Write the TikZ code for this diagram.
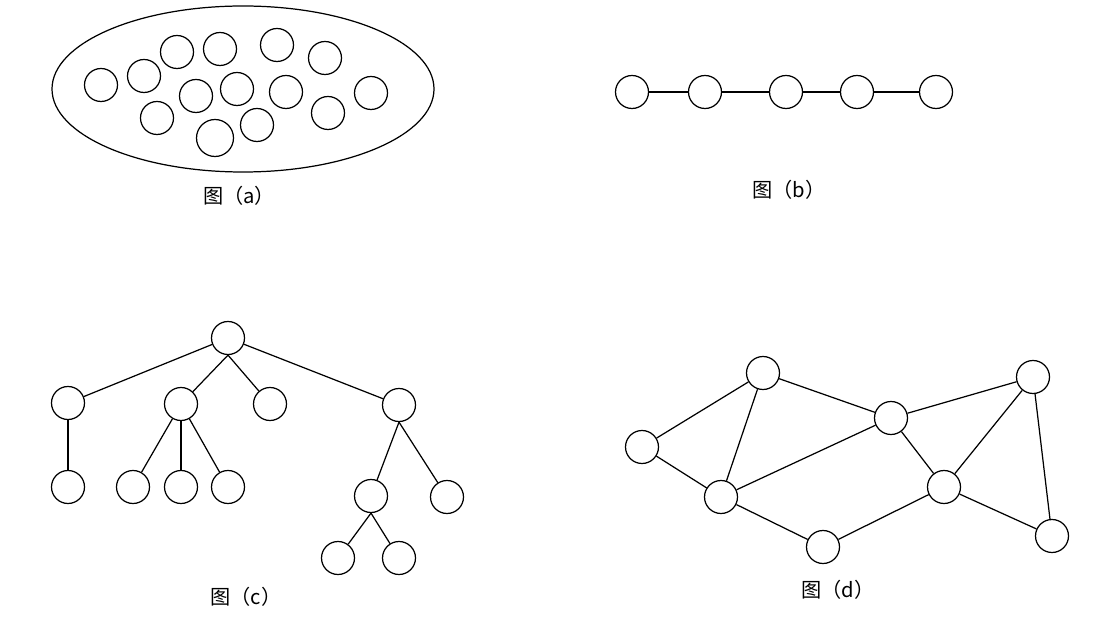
\documentclass[tikz,border=0pt]{standalone}
\usepackage{fontspec}
\newfontfamily\cjk{Noto Sans CJK SC}
\tikzset{
    ball/.style={draw, circle, minimum size=0.66cm, inner sep=0pt},
    bigball/.style={ball, minimum size=0.74cm},
    caption/.style={font=\cjk\fontsize{11.5}{13}\selectfont}
}
\begin{document}
\begin{tikzpicture}[x=0.02cm, y=-0.02cm, line width=0.7pt]
    \useasboundingbox (0,0) rectangle (1105,631);

    % (a) set
    \draw (243,89) ellipse (191 and 83);
    \foreach \n/\x/\y in {1/101/85, 2/144/76, 3/177/52, 4/220/49, 5/277/45, 6/325/58, 7/371/93,
        8/196/96, 9/237/89, 10/286/92, 11/157/118, 13/257/125, 14/328/113}
        \node[ball] (a\n) at (\x,\y) {};
    \node[bigball] (a12) at (215,138) {};
    \node[caption] (capa) at (239,196) {图（a）};

    % (b) chain
    \foreach \n/\x in {1/632, 2/705, 3/786, 4/857, 5/936}
        \node[ball] (b\n) at (\x,92) {};
    \foreach \i/\j in {1/2, 2/3, 3/4, 4/5}
        \draw (b\i) -- (b\j);
    \node[caption] (capb) at (789,190) {图（b）};

    % (c) tree
    \node[ball] (c0) at (228,338) {};
    \node[ball] (c1) at (68,403) {};
    \node[ball] (c2) at (181,404) {};
    \node[ball] (c3) at (270,404) {};
    \node[ball] (c4) at (399,405) {};
    \node[ball] (c11) at (68,487) {};
    \node[ball] (c21) at (133,487) {};
    \node[ball] (c22) at (181,487) {};
    \node[ball] (c23) at (228,487) {};
    \node[ball] (c41) at (371,496) {};
    \node[ball] (c42) at (447,497) {};
    \node[ball] (c411) at (338,558) {};
    \node[ball] (c412) at (399,558) {};
    \foreach \i/\j in {0/1, 0/4, 1/11, 2/21, 2/22, 2/23}
        \draw (c\i) -- (c\j);
    \foreach \i/\j in {0/2, 0/3, 4/41, 4/42, 41/411, 41/412}
        \draw (c\i.south) -- (c\j);
    \node[caption] (capc) at (246,597) {图（c）};

    % (d) graph
    \node[ball] (dA) at (642,447) {};
    \node[ball] (dB) at (763,373) {};
    \node[ball] (dC) at (721,497) {};
    \node[ball] (dD) at (823,547) {};
    \node[ball] (dE) at (891,418) {};
    \node[ball] (dF) at (944,487) {};
    \node[ball] (dG) at (1033,377) {};
    \node[ball] (dH) at (1052,536) {};
    \foreach \i/\j in {A/B, A/C, B/C, B/E, C/E, C/D, D/F, E/F, E/G, F/G, F/H, G/H}
        \draw (d\i) -- (d\j);
    \node[caption] (capd) at (838,590) {图（d）};
\end{tikzpicture}
\end{document}
